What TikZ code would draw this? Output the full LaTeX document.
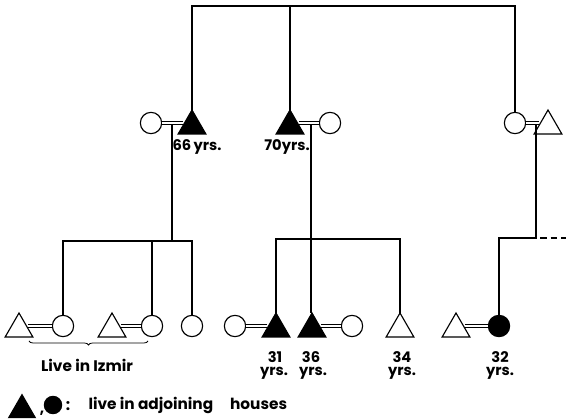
\documentclass[tikz,border=0pt]{standalone}
\usepackage{fontspec}
\setmainfont{Poppins}
\usetikzlibrary{shapes.geometric,decorations.pathreplacing}
\begin{document}
\begin{tikzpicture}[x=0.75pt,y=-0.75pt,line width=0.85pt,
  male/.style={regular polygon,regular polygon sides=3,draw,minimum size=24pt,inner sep=0pt,outer sep=0pt},
  female/.style={circle,draw,minimum size=16pt,inner sep=0pt,outer sep=0pt},
  filled/.style={fill=black},
  marr/.style={double,double distance=2.2pt,line width=0.75pt},
  lbl/.style={font=\fontsize{11}{12}\selectfont\bfseries,inner sep=0pt},
  leg/.style={font=\fontsize{11.5}{13}\selectfont\bfseries,inner sep=0pt},
  dashline/.style={dash pattern=on 5pt off 3pt}]
\useasboundingbox (0,0) rectangle (568,420);
% generation 2
\node[female] (w1) at (151,123) {};
\node[male,filled] (h1) at (192,126) {};
\node[male,filled] (h2) at (290,126) {};
\node[female] (w2) at (330,123) {};
\node[female] (w3) at (515,123) {};
\node[male] (h3) at (548,126) {};
\node[lbl] (l66) at (197,147) {66\,yrs.};
\node[lbl] (l70) at (287,147) {70yrs.};
% marriages gen 2
\draw[marr] (w1.east) -- (w1.east -| h1.west);
\draw[marr] (h2.east |- w2.west) -- (w2.west);
\draw[marr] (w3.east) -- (w3.east -| h3.west);
\coordinate (m1) at (172,125);
\coordinate (m2) at (311,125);
\coordinate (m3) at (536,125);
% top line
\coordinate (tl) at (191,6);
\coordinate (tr) at (515,6);
\draw (h1.corner 1) -- (h1.corner 1 |- tl) -- (tr) -- (w3.north);
\draw (h2.corner 1) -- (h2.corner 1 |- tl);
% generation 3
\node[male] (t1) at (19,329) {};
\node[female] (c1) at (63,326) {};
\node[male] (t2) at (112,329) {};
\node[female] (c2) at (152,326) {};
\node[female] (c3) at (192,326) {};
\node[female] (w4) at (235,326) {};
\node[male,filled] (s31) at (276,329) {};
\node[male,filled] (s36) at (312,329) {};
\node[female] (w5) at (352,326) {};
\node[male] (s34) at (400,329) {};
\node[male] (h6) at (456,329) {};
\node[female,filled] (d32) at (499,326) {};
\draw[marr] (t1.east |- c1.west) -- (c1.west);
\draw[marr] (t2.east |- c2.west) -- (c2.west);
\draw[marr] (w4.east) -- (w4.east -| s31.west);
\draw[marr] (s36.east |- w5.west) -- (w5.west);
\draw[marr] (h6.east |- d32.west) -- (d32.west);
% left sibship
\coordinate (sl) at (63,241);
\coordinate (sr) at (192,241);
\draw (m1) -- (m1 |- sl);
\draw (c1.north) -- (sl) -- (sr) -- (c3.north);
\draw (c2.north) -- (c2.north |- sl);
% middle sibship
\coordinate (ml) at (276,239);
\coordinate (mr) at (400,239);
\draw (m2) -- (m2 |- s36.corner 1);
\draw (s31.corner 1) -- (ml) -- (mr) -- (s34.corner 1);
% right sibship
\coordinate (rj) at (536,238);
\coordinate (rd) at (566,238);
\draw (m3) -- (rj) -- (rj -| d32.north) -- (d32.north);
\draw[dashline] (rj) ++(4,0) coordinate (rj2);
\draw[dashline] (rj2) -- (rd);
% age labels
\node[lbl] (a31) at (275,357) {31};
\node[lbl] (y31) at (274,373) {yrs.};
\node[lbl] (a36) at (311,357) {36};
\node[lbl] (y36) at (313,373) {yrs.};
\node[lbl] (a34) at (402,357) {34};
\node[lbl] (y34) at (402,373) {yrs.};
\node[lbl] (a32) at (500,357) {32};
\node[lbl] (y32) at (500,373) {yrs.};
% brace
\coordinate (bl) at (29,341);
\coordinate (br) at (148,341);
\draw[line width=0.6pt,decorate,decoration={brace,amplitude=3pt,mirror}] (bl) -- (br);
\node[leg] (izmir) at (87,365) {Live in Izmir};
% legend
\node[male,filled,minimum size=23pt] (lt) at (22,410) {};
\node[leg] (comma) at (42,413) {,};
\node[female,filled,minimum size=13pt] (lc) at (53,405) {};
\node[leg] (colon) at (68,406) {:};
\node[leg,anchor=west] (ltext) at (88,405) {live in adjoining\hspace{1.1em}houses};
\end{tikzpicture}
\end{document}
